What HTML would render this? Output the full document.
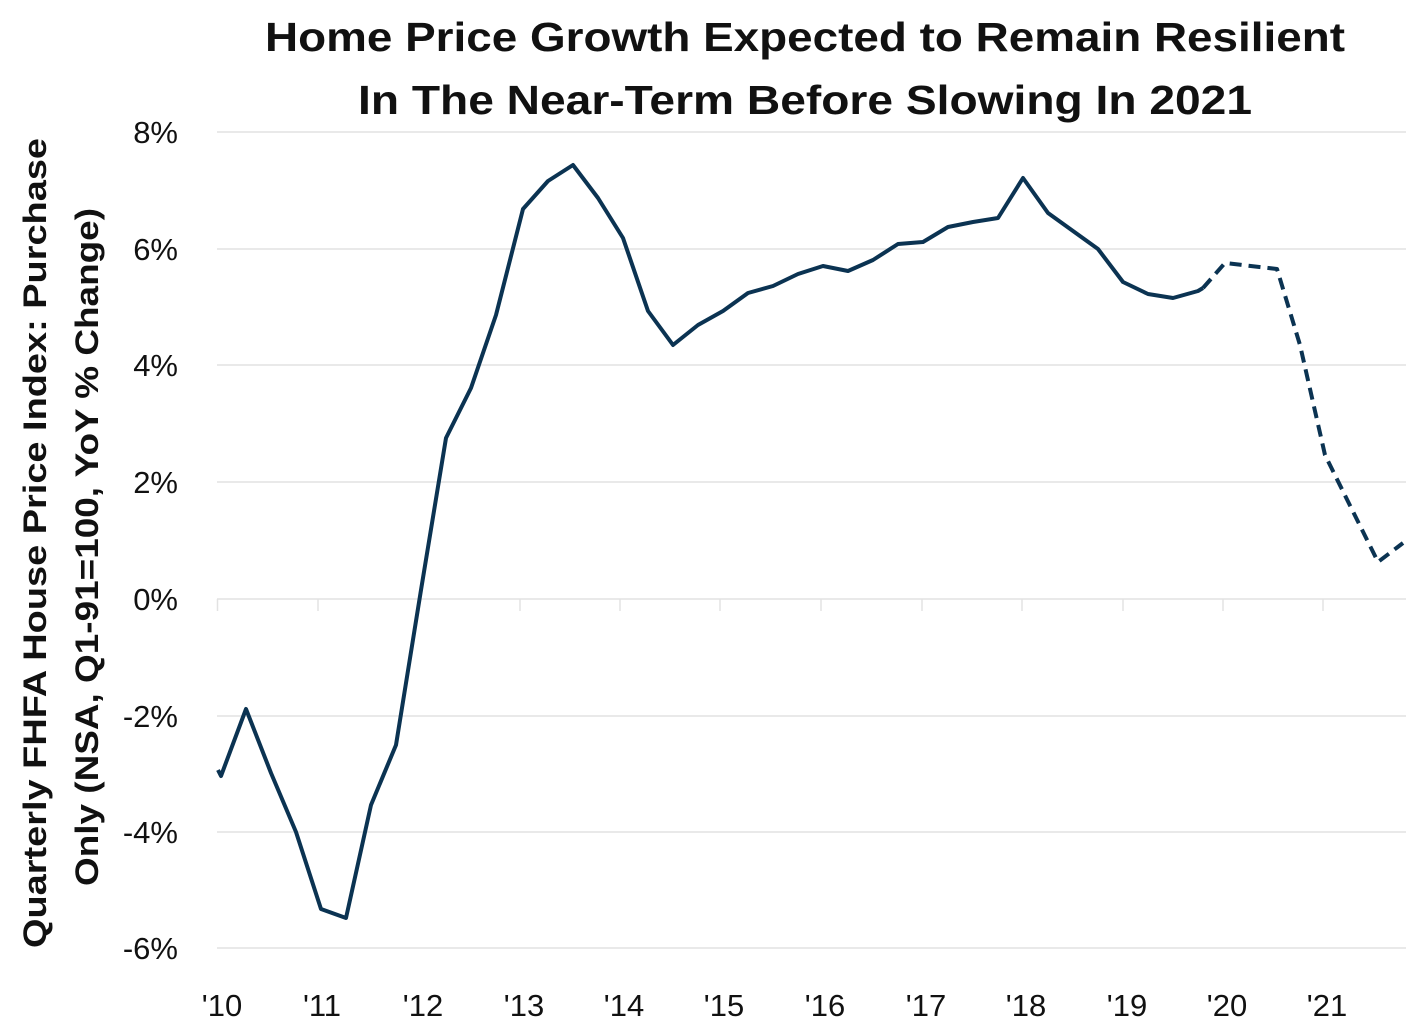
<!DOCTYPE html>
<html><head><meta charset="utf-8"><style>
html,body{margin:0;padding:0;background:#fff;width:1422px;height:1032px;overflow:hidden}
svg text{font-family:"Liberation Sans",sans-serif;fill:#111}
</style></head><body>
<svg width="1422" height="1032" viewBox="0 0 1422 1032" xmlns="http://www.w3.org/2000/svg">
<text x="265" y="51" font-size="41" font-weight="bold" textLength="1080" lengthAdjust="spacingAndGlyphs">Home Price Growth Expected to Remain Resilient</text>
<text x="358" y="114" font-size="41" font-weight="bold" textLength="894" lengthAdjust="spacingAndGlyphs">In The Near-Term Before Slowing In 2021</text>
<g stroke="#e2e2e2" stroke-width="1.5">
<line x1="217" x2="1406" y1="132" y2="132"/>
<line x1="217" x2="1406" y1="249" y2="249"/>
<line x1="217" x2="1406" y1="365" y2="365"/>
<line x1="217" x2="1406" y1="482" y2="482"/>
<line x1="217" x2="1406" y1="599" y2="599"/>
<line x1="217" x2="1406" y1="716" y2="716"/>
<line x1="217" x2="1406" y1="832" y2="832"/>
<line x1="217" x2="1406" y1="948" y2="948"/>
<line x1="217.5" x2="217.5" y1="599" y2="611"/><line x1="318" x2="318" y1="599" y2="611"/><line x1="419" x2="419" y1="599" y2="611"/><line x1="520" x2="520" y1="599" y2="611"/><line x1="620" x2="620" y1="599" y2="611"/><line x1="720" x2="720" y1="599" y2="611"/><line x1="821" x2="821" y1="599" y2="611"/><line x1="922" x2="922" y1="599" y2="611"/><line x1="1022" x2="1022" y1="599" y2="611"/><line x1="1123" x2="1123" y1="599" y2="611"/><line x1="1223" x2="1223" y1="599" y2="611"/><line x1="1323" x2="1323" y1="599" y2="611"/>
</g>
<g font-size="31" text-anchor="end">
<text x="178" y="143">8%</text><text x="178" y="260">6%</text><text x="178" y="376">4%</text><text x="178" y="493">2%</text><text x="178" y="610">0%</text><text x="178" y="727">-2%</text><text x="178" y="843">-4%</text><text x="178" y="959">-6%</text>
</g>
<g font-size="31" text-anchor="middle">
<text x="222" y="1016">'10</text><text x="322" y="1016">'11</text><text x="423" y="1016">'12</text><text x="524" y="1016">'13</text><text x="624" y="1016">'14</text><text x="724" y="1016">'15</text><text x="825" y="1016">'16</text><text x="926" y="1016">'17</text><text x="1026" y="1016">'18</text><text x="1127" y="1016">'19</text><text x="1227" y="1016">'20</text><text x="1327" y="1016">'21</text>
</g>
<g font-size="32" font-weight="bold">
<text transform="translate(46,948) rotate(-90)" textLength="810" lengthAdjust="spacingAndGlyphs">Quarterly FHFA House Price Index: Purchase</text>
<text transform="translate(98,886) rotate(-90)" textLength="678" lengthAdjust="spacingAndGlyphs">Only (NSA, Q1-91=100, YoY % Change)</text>
</g>
<polyline fill="none" stroke="#0b3352" stroke-width="4" stroke-linejoin="round" points="218,770 221,776 246,709 271,773 296,832 321,909 346,918 371,805 396,745 421,590 446,438 471,388 496,315 523,209 548,181 573,165 598,198 623,238 648,311 673,345 698,325 723,311 748,293 773,286 798,274 823,266 848,271 873,260 898,244 923,242 948,227 973,222 998,218 1023,178 1048,213 1073,231 1098,249 1123,282 1148,294 1173,298 1198,291 1203,288"/>
<polyline fill="none" stroke="#0b3352" stroke-width="4" stroke-dasharray="12,7" stroke-linejoin="round" points="1203,288 1225,263 1277,269 1300,345 1325,455 1378,562 1403,543"/>
</svg>
</body></html>
